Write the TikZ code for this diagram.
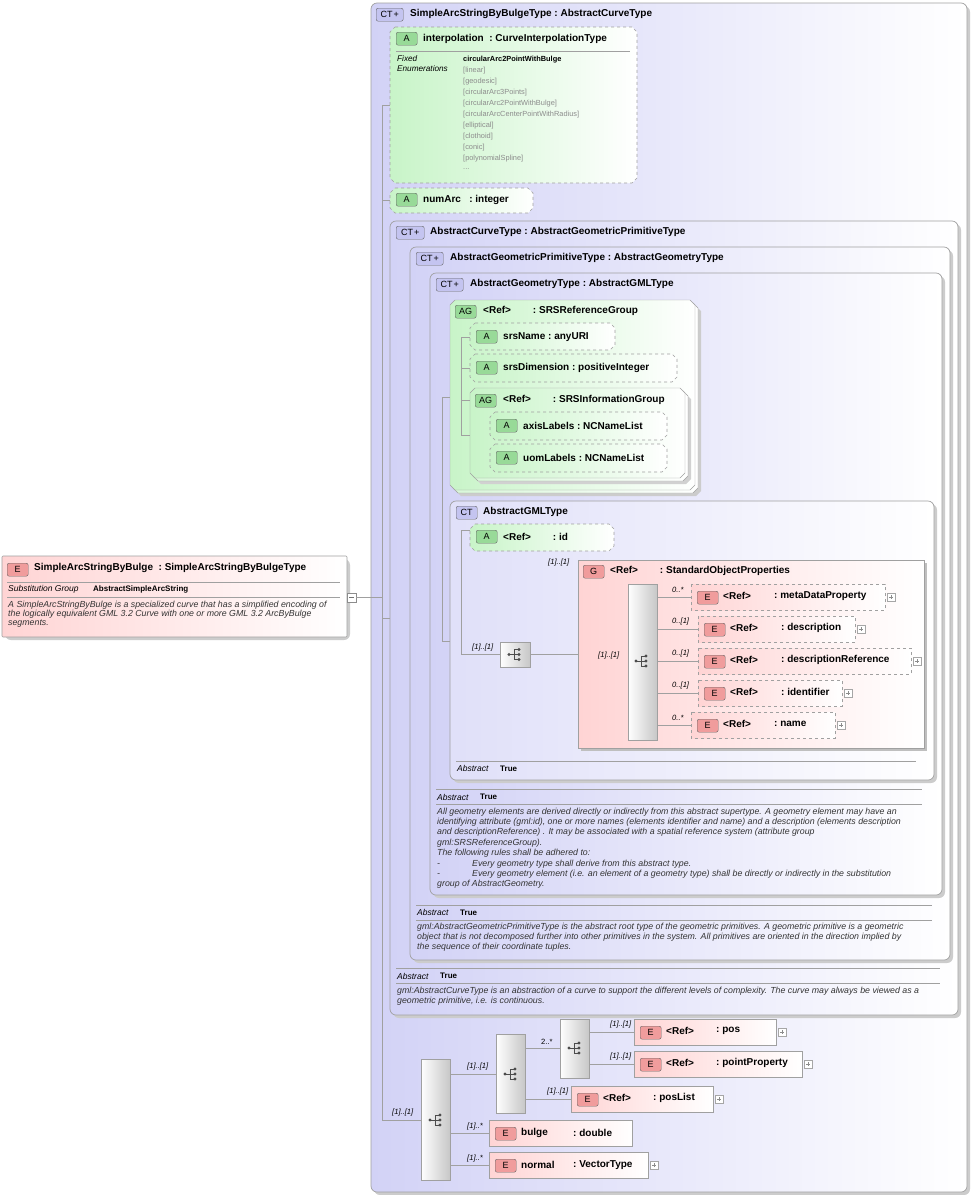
\documentclass[tikz,border=0pt]{standalone}
\usepackage{fontspec}
\setmainfont{Liberation Sans}
\definecolor{lav}{HTML}{D2D2F6}
\definecolor{grn}{HTML}{C8F4C8}
\definecolor{pnk}{HTML}{FFD4D4}
\definecolor{bb}{HTML}{C4C4F0}
\definecolor{bg}{HTML}{98DA98}
\definecolor{br}{HTML}{F09C9C}
\definecolor{lin}{HTML}{A0A0A0}
\begin{document}
\begin{tikzpicture}[x=1pt,y=-1pt,
 ct/.style={draw=lin, rounded corners=6pt, left color=lav, right color=white, line width=0.7pt},
 shad/.style={fill=black!20, draw=none, rounded corners=6pt},
 attr/.style={draw=lin, dashed, left color=grn, right color=white, line width=0.6pt},
 elem/.style={draw=lin, left color=pnk, right color=white, line width=0.6pt},
 elemd/.style={elem, dashed},
 seqb/.style={draw=lin, left color=white, right color=black!22, line width=0.6pt},
 conn/.style={draw=lin, line width=0.6pt},
 badge/.style={draw, rounded corners=2pt, minimum width=21pt, minimum height=13pt, inner sep=0, anchor=north west, font=\fontsize{9}{10}\selectfont},
 bct/.style={badge, fill=bb, draw=black!60},
 ba/.style={badge, fill=bg, draw=black!60},
 be/.style={badge, fill=br, draw=black!60},
 ttl/.style={font=\fontsize{10}{12}\selectfont\bfseries, anchor=west, inner sep=0},
 lbl/.style={font=\fontsize{7.6}{9}\selectfont\itshape, anchor=west, inner sep=0},
 enm/.style={font=\fontsize{7.4}{9}\selectfont, text=black!45, anchor=west, inner sep=0},
 ds/.style={font=\fontsize{8.8}{10.4}\selectfont\itshape, anchor=west, inner sep=0, text=black!80},
 ab/.style={font=\fontsize{8}{9}\selectfont\bfseries, anchor=west, inner sep=0},
 abl/.style={font=\fontsize{8.5}{9}\selectfont\itshape, anchor=west, inner sep=0},
]
\newcommand\chb[5]{\path[#5] ({#1+5},#2) -- ({#3-5},#2) -- (#3,{#2+5}) -- (#3,{#4-5}) -- ({#3-5},#4) -- ({#1+5},#4) -- (#1,{#4-5}) -- (#1,{#2+5}) -- cycle;}
\newcommand\seqicon[2]{\fill[black!70] ({#1-7},#2) circle (1.6);
 \draw[black!70,line width=0.7pt] ({#1-7},#2) -- ({#1-2},#2) ({#1-2},{#2-5}) -- ({#1-2},{#2+5}) ({#1-2},{#2-5}) -- ({#1+3},{#2-5}) ({#1-2},{#2+5}) -- ({#1+3},{#2+5}) ({#1-2},#2)--({#1+3},#2);
 \fill[black!70] ({#1+3},{#2-5}) circle (1.6) ({#1+3},#2) circle (1.6) ({#1+3},{#2+5}) circle (1.6);}
\newcommand\plusb[2]{\draw[black!35,fill=white,line width=0.5pt] (#1,{#2-4}) rectangle ({#1+8},{#2+4}); \draw[black!45,line width=0.5pt] ({#1+2},#2) -- ({#1+6},#2) ({#1+4},{#2-2}) -- ({#1+4},{#2+2});}
\useasboundingbox (0,0) rectangle (971,1195);
\fill[white] (0,0) rectangle (971,1195);

% ---------- root element
\fill[shad] (5,559) rectangle (350,640);
\draw[elem, rounded corners=1pt] (2,556) rectangle (347,637);
\node[be] (eroot) at (7,563) {E};
\node[ttl] at (34,568) {SimpleArcStringByBulge\ \ :\ SimpleArcStringByBulgeType};
\draw[lin] (7,582) -- (340,582) (7,597) -- (340,597);
\node[abl] at (8,589.5) {Substitution Group};
\node[ab] at (93,589.5) {AbstractSimpleArcString};
\node[ds, align=left, anchor=north west, font=\fontsize{8.8}{9.4}\selectfont\itshape] at (8,600.5) {A SimpleArcStringByBulge is a specialized curve that has a simplified encoding of\\the logically equivalent GML 3.2 Curve with one or more GML 3.2 ArcByBulge\\segments.};
\draw[black!45,fill=white,line width=0.5pt] (347,593) rectangle (356,602);
\draw[black!55] (349,597.5) -- (354,597.5);

% ---------- outer CT
\fill[shad] (374,6) rectangle (970,1195);
\draw[ct] (371,3) rectangle (967,1192);
\node[bct, minimum width=27pt] at (376,8) {CT\kern1pt+};
\node[ttl] at (410,14) {SimpleArcStringByBulgeType\ :\ AbstractCurveType};

% outer tree
\draw[conn] (356,597.5) -- (382,597.5);
\draw[conn] (382,105) -- (382,1120);
\draw[conn] (382,105) -- (390,105) (382,200) -- (390,200) (382,618) -- (391,618) (382,1120) -- (421,1120);
\draw[conn] (391,603) -- (411,603) (411,584) -- (442,584);

% interpolation
\chb{390}{27}{637}{183}{attr}
\node[ba] at (396,32) {A};
\node[ttl] at (423,38.5) {interpolation\ \ :\ CurveInterpolationType};
\draw[lin] (396,51) -- (630,51);
\node[abl, align=left, anchor=north west, font=\fontsize{8.2}{10.4}\selectfont\itshape] at (397,55) {Fixed\\Enumerations};
\node[enm, text=black, font=\fontsize{7.4}{9}\selectfont\bfseries] at (463,60) {circularArc2PointWithBulge};
\foreach \t [count=\i] in {[linear],[geodesic],[circularArc3Points],[circularArc2PointWithBulge],[circularArcCenterPointWithRadius],[elliptical],[clothoid],[conic],[polynomialSpline]}
 \node[enm] at (463,{60+10.9*\i}) {\t};
\node[enm] at (463,{60+10.9*10}) {...};

% numArc
\chb{390}{188}{533}{213}{attr}
\node[ba] at (396,193) {A};
\node[ttl] at (423,200) {numArc\ \ \ :\ integer};

% AbstractCurveType
\fill[shad] (393,224) rectangle (961,1018);
\draw[ct] (390,221) rectangle (958,1015);
\node[bct, minimum width=28pt] at (396,226) {CT\kern1pt+};
\node[ttl] at (430,232) {AbstractCurveType\ :\ AbstractGeometricPrimitiveType};
\draw[lin] (396,968) -- (940,968) (396,983) -- (940,983);
\node[abl] at (397,976) {Abstract}; \node[ab] at (440,976) {True};
\node[ds, align=left, anchor=north west] at (397,986.5) {gml:AbstractCurveType is an abstraction of a curve to support the different levels of complexity. The curve may always be viewed as a\\geometric primitive, i.e. is continuous.};

% AbstractGeometricPrimitiveType
\fill[shad] (413,250) rectangle (953,963);
\draw[ct] (410,247) rectangle (950,960);
\node[bct, minimum width=27pt] at (416,252) {CT\kern1pt+};
\node[ttl] at (450,258) {AbstractGeometricPrimitiveType\ :\ AbstractGeometryType};
\draw[lin] (416,905) -- (932,905) (416,920) -- (932,920);
\node[abl] at (417,912.5) {Abstract}; \node[ab] at (460,912.5) {True};
\node[ds, align=left, anchor=north west] at (417,922.5) {gml:AbstractGeometricPrimitiveType is the abstract root type of the geometric primitives. A geometric primitive is a geometric\\object that is not decomposed further into other primitives in the system. All primitives are oriented in the direction implied by\\the sequence of their coordinate tuples.};

% AbstractGeometryType
\fill[shad] (433,276) rectangle (945,898);
\draw[ct] (430,273) rectangle (942,895);
\node[bct, minimum width=27pt] at (436,278) {CT\kern1pt+};
\node[ttl] at (470,284) {AbstractGeometryType\ :\ AbstractGMLType};
\draw[lin] (436,789) -- (922,789) (436,804) -- (922,804);
\node[abl] at (437,797) {Abstract}; \node[ab] at (480,797) {True};
\node[ds, align=left, anchor=north west] at (437,807.5) {All geometry elements are derived directly or indirectly from this abstract supertype. A geometry element may have an\\identifying attribute (gml:id), one or more names (elements identifier and name) and a description (elements description\\and descriptionReference) . It may be associated with a spatial reference system (attribute group\\gml:SRSReferenceGroup).\\The following rules shall be adhered to:\\-\hspace{32pt}Every geometry type shall derive from this abstract type.\\-\hspace{32pt}Every geometry element (i.e. an element of a geometry type) shall be directly or indirectly in the substitution\\group of AbstractGeometry.};

\draw[conn] (442,397) -- (442,641) (442,397) -- (461,397) (442,641) -- (461,641);

% SRSReferenceGroup
\chb{456}{306}{701}{496}{fill=black!20}
\chb{453}{303}{698}{493}{draw=lin, left color=grn!70, right color=white}
\chb{450}{300}{695}{490}{draw=lin, left color=grn, right color=white}
\node[ba] at (455,305) {AG};
\node[ttl] at (483,310.5) {<Ref>\hspace{22pt}:\ SRSReferenceGroup};
\draw[conn] (461,337) -- (461,435) (461,337) -- (470,337) (461,368) -- (470,368) (461,400) -- (470,400) (461,435) -- (482,435) (482,425) -- (482,457) (482,425) -- (490,425) (482,457) -- (490,457);
\chb{470}{323}{615}{350}{attr}
\node[ba] at (476,330) {A};
\node[ttl] at (503,337) {srsName\ :\ anyURI};
\chb{470}{354}{677}{382}{attr}
\node[ba] at (476,361) {A};
\node[ttl] at (503,368) {srsDimension\ :\ positiveInteger};
\chb{476}{394}{691}{484}{fill=black!18}
\chb{473}{391}{688}{481}{draw=lin, left color=grn!70, right color=white}
\chb{470}{388}{685}{478}{draw=lin, left color=grn, right color=white}
\node[ba] at (475,394) {AG};
\node[ttl] at (503,400) {<Ref>\hspace{22pt}:\ SRSInformationGroup};
\chb{490}{412}{667}{440}{attr}
\node[ba] at (496,419) {A};
\node[ttl] at (523,425.5) {axisLabels\ :\ NCNameList};
\chb{490}{444}{667}{472}{attr}
\node[ba] at (496,451) {A};
\node[ttl] at (523,457.5) {uomLabels\ :\ NCNameList};

% AbstractGMLType
\fill[shad] (453,504) rectangle (937,783);
\draw[ct, left color=lav!70] (450,501) rectangle (934,780);
\node[bct] at (456,506) {CT};
\node[ttl] at (483,512) {AbstractGMLType};
\draw[lin] (456,761) -- (916,761);
\node[abl] at (457,768.5) {Abstract}; \node[ab] at (500,768.5) {True};
\draw[conn] (461,530) -- (461,654) (461,530) -- (470,530) (461,654) -- (500,654);
\chb{470}{524}{614}{551}{attr}
\node[ba] at (476,530) {A};
\node[ttl] at (503,537) {<Ref>\hspace{22pt}:\ id};
\node[lbl] at (472,648) {[1]..[1]};
\node[seqb, minimum width=30pt, minimum height=25pt, inner sep=0] (s1) at (515,654.5) {};
\seqicon{516}{654.5}
\draw[conn] (s1.east) -- (628,654.5);
% group
\fill[black!25] (581,563) rectangle (927,751);
\draw[elem] (578,560) rectangle (924,748);
\node[lbl] at (548,563) {[1]..[1]};
\node[be] at (583,565) {G};
\node[ttl] at (610,570.5) {<Ref>\hspace{22pt}:\ StandardObjectProperties};
\node[lbl] at (598,656) {[1]..[1]};
\node[seqb, minimum width=29pt, minimum height=156pt, inner sep=0] (s2) at (642.5,662) {};
\seqicon{643}{661}
\foreach \y/\x/\w/\m/\nm/\q in {597/691/194/0..*/metaDataProperty/774, 629/698/157/0..[1]/description/781, 661/698/213/0..[1]/descriptionReference/781, 693/698/144/0..[1]/identifier/781, 725/691/144/0..*/name/774}{
 \draw[conn] (657,\y) -- (\x,\y);
 \node[lbl] at (672,{\y-7}) {\m};
 \path[elemd] (\x,{\y-13}) rectangle ({\x+\w},{\y+13});
 \node[be] at ({\x+6},{\y-6}) {E};
 \node[ttl] at ({\x+32},{\y-1}) {<Ref>};
 \node[ttl] at (\q,{\y-1}) {:\ \nm};
 \plusb{\x+\w+2}{\y};
}

% ---------- bottom sequence
\node[lbl] at (392,1113) {[1]..[1]};
\node[seqb, minimum width=29pt, minimum height=121pt, inner sep=0] (b1) at (435.5,1120) {};
\seqicon{437}{1120}
\node[seqb, minimum width=29pt, minimum height=79pt, inner sep=0] (b2) at (510.5,1074) {};
\seqicon{512}{1074}
\node[seqb, minimum width=29pt, minimum height=59pt, inner sep=0] (b3) at (574.5,1049) {};
\seqicon{576}{1048}
\draw[conn] (450,1074) -- (496,1074);
\node[lbl] at (467,1067) {[1]..[1]};
\draw[conn] (525,1048) -- (560,1048);
\node[lbl, font=\fontsize{7.6}{9}\selectfont] at (541,1042) {2..*};
\foreach \y/\x/\w/\nm/\q/\lx/\fx in {1032/634/142/pos/716/610/589, 1064/634/168/pointProperty/716/610/589, 1099/571/142/posList/653/547/525}{
 \draw[conn] (\fx,\y) -- (\x,\y);
 \node[lbl] at (\lx,{\y-7}) {[1]..[1]};
 \path[elem] (\x,{\y-13}) rectangle ({\x+\w},{\y+13});
 \node[be] at ({\x+6},{\y-6}) {E};
 \node[ttl] at ({\x+32},{\y-1}) {<Ref>};
 \node[ttl] at (\q,{\y-1}) {:\ \nm};
 \plusb{\x+\w+2}{\y};
}
\draw[conn] (450,1133) -- (489,1133);
\node[lbl] at (467,1127) {[1]..*};
\path[elem] (489,1120) rectangle (632,1146);
\node[be] at (495,1127) {E};
\node[ttl] at (521,1133) {bulge}; \node[ttl] at (573,1133) {:\ double};
\draw[conn] (450,1165) -- (489,1165);
\node[lbl] at (467,1159) {[1]..*};
\path[elem] (489,1152) rectangle (648,1178);
\node[be] at (495,1159) {E};
\node[ttl] at (521,1165) {normal}; \node[ttl] at (573,1165) {:\ VectorType};
\plusb{650}{1165}
\end{tikzpicture}
\end{document}
